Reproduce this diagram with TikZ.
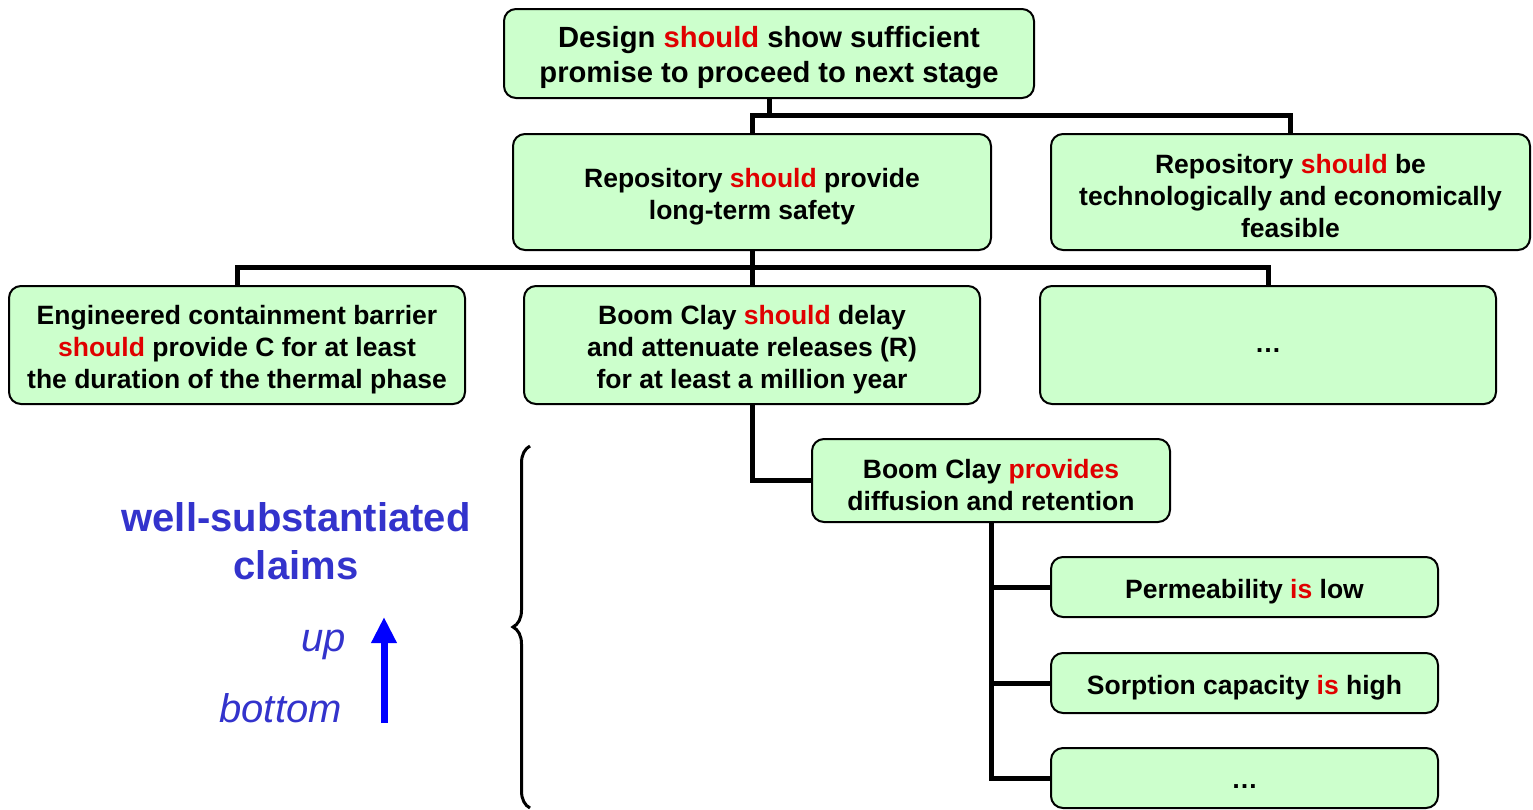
\documentclass[tikz,border=0pt]{standalone}
\usepackage{fontspec}
\setmainfont{Liberation Sans}
\usetikzlibrary{arrows.meta,decorations.pathreplacing}
\definecolor{boxgreen}{HTML}{CCFFCC}
\definecolor{kred}{HTML}{E00000}
\definecolor{kblue}{HTML}{3333CC}
\definecolor{arrblue}{HTML}{0000FF}
\newcommand{\rd}[1]{\textcolor{kred}{#1}}
\newcommand{\fl}{\rule{0pt}{28pt}}
\begin{document}
\begin{tikzpicture}[x=1pt,y=1pt,
  box/.style={draw, line width=2pt, rounded corners=12pt, fill=boxgreen, inner sep=0pt,
    align=center, font=\bfseries\fontsize{26.5}{32}\selectfont},
  conn/.style={line width=5pt, line join=miter},
  bigtxt/.style={text=kblue, font=\bfseries\fontsize{40}{48}\selectfont, align=center, inner sep=0pt},
  itxt/.style={text=kblue, font=\itshape\fontsize{40}{48}\selectfont, inner sep=0pt}]
\useasboundingbox (0,0) rectangle (1533,-809);
% boxes
\node[box, minimum width=530, minimum height=89, font=\bfseries\fontsize{29.2}{35}\selectfont] (top) at (769,-53.5)
  {\rule{0pt}{30pt}Design \rd{should} show sufficient\\promise to proceed to next stage};
\node[box, minimum width=478, minimum height=116] (rep1) at (752,-192)
  {\fl Repository \rd{should} provide\\long-term safety};
\node[box, minimum width=479, minimum height=116] (rep2) at (1290.5,-192)
  {\fl Repository \rd{should} be\\technologically and economically\\feasible};
\node[box, minimum width=456, minimum height=118] (ecb) at (237,-345)
  {\fl Engineered containment barrier\\\rd{should} provide C for at least\\the duration of the thermal phase};
\node[box, minimum width=456, minimum height=118] (bc) at (752,-345)
  {\fl Boom Clay \rd{should} delay\\and attenuate releases (R)\\for at least a million year};
\node[box, minimum width=456, minimum height=118] (dots1) at (1268,-345) {\raisebox{-15pt}{\dots}};
\node[box, minimum width=358, minimum height=83] (bcp) at (991,-480.5)
  {\fl Boom Clay \rd{provides}\\diffusion and retention};
\node[box, minimum width=387, minimum height=60] (perm) at (1244.5,-587) {\fl Permeability \rd{is} low};
\node[box, minimum width=387, minimum height=60] (sorp) at (1244.5,-683) {\fl Sorption capacity \rd{is} high};
\node[box, minimum width=387, minimum height=60] (dots2) at (1244.5,-778) {\raisebox{-20pt}{\dots}};
% connectors
\draw[conn] (top.south) -- ++(0,-18);
\draw[conn] (rep1.north) -- ++(0,18) -| (rep2.north);
\draw[conn] (rep1.south) -- ++(0,-18);
\draw[conn] (ecb.north) -- ++(0,18) -| (dots1.north);
\draw[conn] (bc.north) -- ++(0,18);
\draw[conn] (bc.south) |- (bcp.west);
\draw[conn] (bcp.south) |- (perm.west);
\draw[conn] (bcp.south) |- (sorp.west);
\draw[conn] (bcp.south) |- (dots2.west);
% left annotation
\node[bigtxt] (claims) at (296,-541) {well-substantiated\\claims};
\node[itxt, anchor=base east] (up) at (346,-651) {up};
\node[itxt, anchor=base east] (bottom) at (342,-722) {bottom};
\coordinate (arrS) at (384,-723);
\coordinate (arrE) at (384,-617);
\draw[arrblue, line width=7pt, -{Triangle[width=24pt,length=26pt]}] (arrS) -- (arrE);
\coordinate (brB) at (530,-808);
\coordinate (brT) at (530,-446);
\draw[line width=3pt, decorate, decoration={brace, amplitude=17pt}] (brB) -- (brT);
\end{tikzpicture}
\end{document}
